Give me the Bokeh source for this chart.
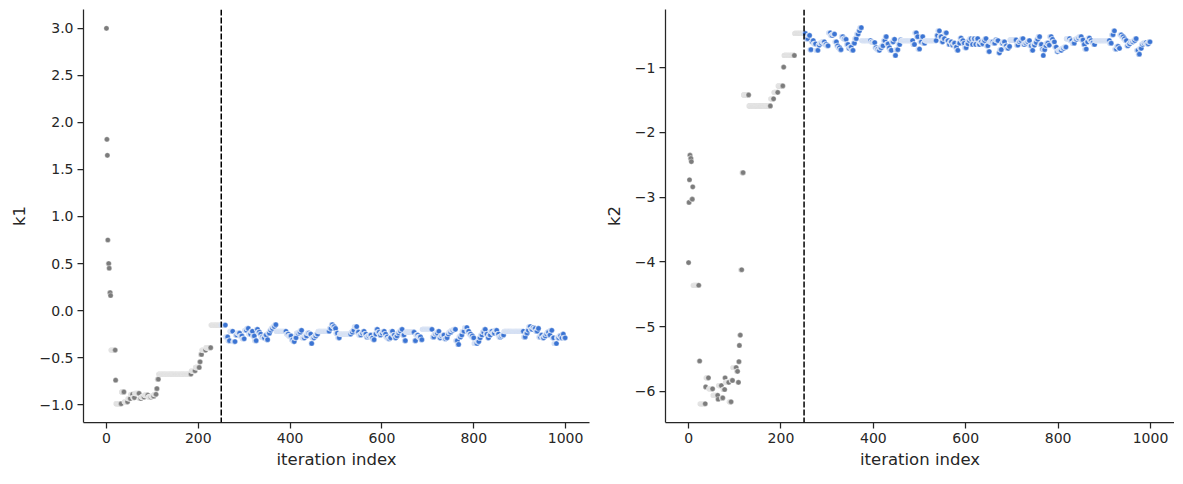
from bokeh.plotting import figure
from bokeh.layouts import row
from bokeh.models import ColumnDataSource, Span, FixedTicker, Range1d
from bokeh.embed import file_html
from bokeh.resources import INLINE

# ---------------- data ----------------
burn_in = 250

# iteration at which each state of the chain was left (accepted move) and the state's value
k1_acc_iter = [0, 1, 2, 3, 5, 6, 8, 9, 19, 20, 32, 38, 46, 52, 57, 61, 71, 75, 82, 90, 97, 103,
               108, 110, 113, 184, 193, 202, 204, 207, 216, 227, 259,
               264, 268, 275, 280, 284, 290, 295, 300, 305, 309, 314, 318, 322, 326, 329, 333,
               336, 340, 344, 348, 351, 355, 358, 362, 366, 369, 391, 396, 402, 406, 409, 413,
               418, 422, 425, 431, 436, 441, 445, 447, 452, 456, 460, 485, 489, 492, 496, 499,
               503, 507, 532, 536, 539, 545, 549, 554, 558, 561, 565, 568, 572, 576, 580, 583,
               587, 590, 594, 597, 601, 605, 608, 612, 616, 619, 623, 627, 630, 633, 637, 641,
               644, 648, 651, 670, 673, 678, 684, 687, 709, 713, 717, 721, 724, 727, 731, 735,
               739, 742, 745, 750, 755, 760, 764, 767, 771, 774, 779, 785, 789, 793, 797, 800,
               807, 811, 814, 818, 822, 825, 829, 832, 836, 840, 845, 850, 854, 858, 861, 865,
               908, 912, 916, 919, 923, 927, 930, 934, 938, 941, 945, 948, 952, 956, 959, 963,
               966, 970, 974, 980, 985, 989, 992, 995, 999]
k1_acc_val = [3.00, 1.82, 1.65, 0.75, 0.50, 0.45, 0.19, 0.16, -0.42, -0.74, -0.99, -0.865, -0.97,
              -0.935, -0.89, -0.925, -0.88, -0.935, -0.92, -0.90, -0.92, -0.91,
              -0.89, -0.83, -0.73, -0.675, -0.64, -0.605, -0.545, -0.466, -0.42, -0.395, -0.154,
              -0.28, -0.32, -0.22, -0.33, -0.26, -0.24, -0.27, -0.30, -0.21, -0.19, -0.25, -0.22,
              -0.27, -0.32, -0.20, -0.23, -0.25, -0.28, -0.29, -0.26, -0.31, -0.24, -0.21, -0.19,
              -0.17, -0.15, -0.22, -0.25, -0.27, -0.31, -0.33, -0.29, -0.24, -0.23, -0.21, -0.29,
              -0.27, -0.24, -0.25, -0.35, -0.29, -0.27, -0.25, -0.22, -0.19, -0.15, -0.17, -0.19,
              -0.24, -0.29, -0.25, -0.23, -0.21, -0.17, -0.23, -0.26, -0.24, -0.22, -0.25, -0.28,
              -0.27, -0.26, -0.29, -0.31, -0.25, -0.20, -0.23, -0.26, -0.24, -0.22, -0.25, -0.28,
              -0.30, -0.29, -0.22, -0.26, -0.29, -0.27, -0.24, -0.22, -0.20, -0.26, -0.32, -0.23,
              -0.32, -0.26, -0.28, -0.31, -0.20, -0.28, -0.25, -0.24, -0.22, -0.29, -0.27, -0.26,
              -0.30, -0.29, -0.25, -0.23, -0.21, -0.20, -0.32, -0.36, -0.28, -0.26, -0.22, -0.18,
              -0.22, -0.25, -0.27, -0.29, -0.35, -0.33, -0.29, -0.26, -0.23, -0.20, -0.25, -0.29,
              -0.26, -0.22, -0.24, -0.21, -0.25, -0.28, -0.27, -0.26, -0.22, -0.28, -0.24, -0.21,
              -0.17, -0.20, -0.18, -0.19, -0.22, -0.19, -0.28, -0.26, -0.29, -0.27, -0.25, -0.23,
              -0.26, -0.21, -0.29, -0.35, -0.29, -0.27, -0.29, -0.25, -0.29]

k2_acc_iter = [0, 1, 2, 3, 5, 6, 8, 9, 22, 24, 36, 37, 43, 52, 63, 64, 71, 74, 78, 79, 87, 92,
               95, 103, 106, 108, 109, 110, 112, 115, 118, 130, 177, 184, 193, 204, 206, 229, 253,
               258, 262, 265, 268, 270, 275, 280, 283, 288, 294, 298, 302, 307, 311, 316, 320,
               323, 327, 330, 334, 338, 341, 345, 348, 352, 356, 359, 363, 367, 370, 374, 394,
               398, 403, 406, 410, 413, 417, 421, 425, 428, 432, 435, 439, 443, 446, 448, 453,
               457, 460, 485, 489, 493, 496, 500, 504, 507, 511, 536, 539, 543, 547, 550, 554,
               558, 562, 565, 569, 572, 576, 580, 583, 587, 590, 594, 597, 601, 605, 608, 612,
               615, 619, 622, 626, 630, 634, 637, 641, 644, 648, 651, 659, 663, 666, 670, 673,
               677, 680, 684, 688, 692, 695, 709, 713, 717, 720, 724, 727, 731, 735, 738, 742,
               745, 749, 753, 756, 760, 764, 767, 768, 771, 774, 778, 781, 785, 788, 792, 796,
               799, 807, 812, 817, 825, 830, 835, 840, 845, 850, 854, 857, 861, 864, 868, 872,
               876, 879, 911, 915, 919, 922, 926, 930, 933, 937, 941, 944, 948, 951, 955, 958,
               962, 966, 969, 973, 976, 980, 983, 987, 991, 995, 999]
k2_acc_val = [-4.01, -3.08, -2.73, -2.35, -2.40, -2.45, -3.03, -2.84, -4.36, -5.53, -6.19, -5.93,
              -5.79, -5.96, -6.06, -6.12, -5.91, -6.10, -5.97, -5.79, -5.86, -6.16,
              -5.83, -5.63, -5.69, -5.86, -5.54, -5.29, -5.13, -4.12, -2.62, -1.42, -1.59, -1.48,
              -1.38, -1.28, -0.99, -0.81, -0.47,
              -0.55, -0.50, -0.72, -0.60, -0.58, -0.63, -0.73, -0.65, -0.62, -0.60, -0.64, -0.66,
              -0.46, -0.50, -0.48, -0.60, -0.66, -0.69, -0.72, -0.52, -0.55, -0.56, -0.64, -0.70,
              -0.68, -0.73, -0.62, -0.55, -0.48, -0.43, -0.38, -0.58,
              -0.60, -0.61, -0.69, -0.71, -0.73, -0.69, -0.66, -0.58, -0.52, -0.63, -0.69, -0.73,
              -0.60, -0.56, -0.81, -0.72, -0.64, -0.57, -0.58, -0.64, -0.46, -0.52, -0.71, -0.60,
              -0.52, -0.62, -0.58, -0.50, -0.43, -0.52, -0.60, -0.55, -0.46, -0.58, -0.64, -0.60,
              -0.65, -0.62, -0.68, -0.73, -0.62, -0.54, -0.58, -0.62, -0.69, -0.63, -0.58, -0.55,
              -0.64, -0.55, -0.64, -0.55, -0.64, -0.60, -0.63, -0.58, -0.55, -0.66, -0.75, -0.60,
              -0.62, -0.57, -0.58, -0.77, -0.72, -0.62, -0.60, -0.66, -0.70, -0.67, -0.57, -0.65,
              -0.60, -0.58, -0.55, -0.64, -0.62, -0.60, -0.58, -0.66, -0.73, -0.65, -0.61, -0.56,
              -0.52, -0.64, -0.71, -0.81, -0.72, -0.66, -0.62, -0.65, -0.52, -0.56, -0.60, -0.68,
              -0.75, -0.73, -0.70, -0.68, -0.55, -0.58, -0.62, -0.56, -0.54, -0.52, -0.57, -0.64,
              -0.71, -0.60, -0.54, -0.58, -0.61, -0.64, -0.58, -0.62, -0.49, -0.43, -0.71, -0.67,
              -0.70, -0.49, -0.52, -0.55, -0.58, -0.66, -0.63, -0.60, -0.60, -0.58, -0.55, -0.73,
              -0.79, -0.70, -0.64, -0.62, -0.61, -0.63, -0.60]

x_ticks = [0, 200, 400, 600, 800, 1000]
k1_ticks = [-1.0, -0.5, 0.0, 0.5, 1.0, 1.5, 2.0, 2.5, 3.0]
k2_ticks = [-6, -5, -4, -3, -2, -1]

# ---------------- style ----------------
DARK_GRAY = "#7c7c7c"
LIGHT_GRAY = "#c9c9c9"
DARK_BLUE = "#3b74d3"
LIGHT_BLUE = "#b3c7ea"
AXIS_COL = "#262626"
FONT = "DejaVu Sans"


def build_chain(acc_iter, acc_val):
    xs, ys, cols = [], [], []
    prev = -1
    for it, v in zip(acc_iter, acc_val):
        for i in range(prev + 1, it + 1):
            accepted = (i == it)
            if i < burn_in:
                c = DARK_GRAY if accepted else LIGHT_GRAY
            else:
                c = DARK_BLUE if accepted else LIGHT_BLUE
            xs.append(i)
            ys.append(v)
            cols.append(c)
        prev = it
    return ColumnDataSource(dict(x=xs, y=ys, c=cols))


def fmt(v, nd):
    s = f"{v:.{nd}f}"
    return s.replace("-", "\u2212")


def make_panel(acc_iter, acc_val, yticks, nd, ylabel, yr, width, mbl, mbr):
    p = figure(width=width, height=476, output_backend="svg", toolbar_location=None,
               x_range=Range1d(-50, 1052), y_range=Range1d(*yr),
               min_border_left=mbl, min_border_right=mbr, min_border_top=9,
               min_border_bottom=54)
    p.outline_line_color = None
    p.grid.visible = False
    src = build_chain(acc_iter, acc_val)
    p.scatter("x", "y", source=src, size=5.2, fill_color="c", line_color="white",
              line_width=0.45, line_alpha=0.8)
    p.add_layout(Span(location=burn_in, dimension="height", line_color="black",
                      line_width=1.5, line_dash="6 2"))
    for ax in (p.xaxis[0], p.yaxis[0]):
        ax.axis_line_color = AXIS_COL
        ax.axis_line_width = 1.25
        ax.major_tick_line_color = AXIS_COL
        ax.major_tick_line_width = 1.25
        ax.major_tick_out = 6
        ax.major_tick_in = 0
        ax.minor_tick_line_color = None
        ax.major_label_text_font = FONT
        ax.major_label_text_font_size = "14px"
        ax.major_label_text_color = AXIS_COL
        ax.axis_label_text_font = FONT
        ax.axis_label_text_font_size = "16.5px"
        ax.axis_label_text_font_style = "normal"
        ax.axis_label_text_color = AXIS_COL
        ax.major_label_standoff = 4
    p.xaxis.ticker = FixedTicker(ticks=x_ticks)
    p.xaxis.major_label_overrides = {t: fmt(t, 0) for t in x_ticks}
    p.xaxis.axis_label = "iteration index"
    p.xaxis.axis_label_standoff = 4
    p.yaxis.ticker = FixedTicker(ticks=yticks)
    p.yaxis.major_label_overrides = {t: fmt(t, nd) for t in yticks}
    p.yaxis.axis_label = ylabel
    p.yaxis.axis_label_standoff = 8
    return p


p1 = make_panel(k1_acc_iter, k1_acc_val, k1_ticks, 1, "k1", (-1.19, 3.2), 595, 83, 6)
p2 = make_panel(k2_acc_iter, k2_acc_val, k2_ticks, 0, "k2", (-6.48, -0.10), 579, 70, 0)

layout = row(p1, p2, spacing=0)
open("out.html", "w").write(file_html(layout, INLINE))
